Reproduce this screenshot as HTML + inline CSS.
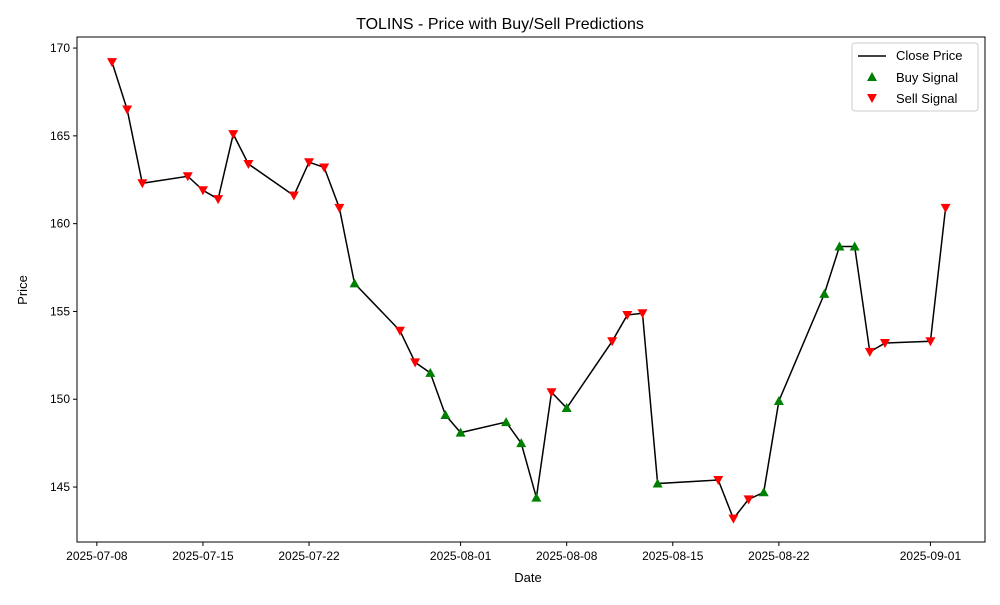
<!DOCTYPE html>
<html><head><meta charset="utf-8"><style>body{margin:0;background:#fff}svg{font-family:"Liberation Sans","DejaVu Sans",sans-serif}</style></head>
<body>
<svg id="c" width="1000" height="600"></svg>
<script>
const dates=["2025-07-09","2025-07-10","2025-07-11","2025-07-14","2025-07-15","2025-07-16","2025-07-17","2025-07-18","2025-07-21","2025-07-22","2025-07-23","2025-07-24","2025-07-25","2025-07-28","2025-07-29","2025-07-30","2025-07-31","2025-08-01","2025-08-04","2025-08-05","2025-08-06","2025-08-07","2025-08-08","2025-08-11","2025-08-12","2025-08-13","2025-08-14","2025-08-18","2025-08-19","2025-08-20","2025-08-21","2025-08-22","2025-08-25","2025-08-26","2025-08-27","2025-08-28","2025-08-29","2025-09-01","2025-09-02"];
const prices=[169.2,166.5,162.3,162.7,161.9,161.4,165.1,163.4,161.6,163.5,163.2,160.9,156.6,153.9,152.1,151.5,149.1,148.1,148.7,147.5,144.4,150.4,149.5,153.3,154.8,154.9,145.2,145.4,143.2,144.3,144.7,149.9,156.0,158.7,158.7,152.7,153.2,153.3,160.9];
const signals=["S","S","S","S","S","S","S","S","S","S","S","S","B","S","S","B","B","B","B","B","B","S","B","S","S","S","B","S","S","S","B","B","B","B","B","S","S","S","S"];
const xTicks=["2025-07-08","2025-07-15","2025-07-22","2025-08-01","2025-08-08","2025-08-15","2025-08-22","2025-09-01"];
const yTicks=[145,150,155,160,165,170];
const L=77,R=985,T=37,B=542;
const day=s=>Date.parse(s)/864e5;
const d0=day("2025-07-08")-1.31,d1=day("2025-09-01")+3.6;
const xs=s=>L+(day(s)-d0)/(d1-d0)*(R-L);
const v0=141.87,v1=170.63;
const ys=v=>B-(v-v0)/(v1-v0)*(B-T);
const svg=document.getElementById('c');const NS='http://www.w3.org/2000/svg';
function mk(t,a,p){const e=document.createElementNS(NS,t);for(const k in a)e.setAttribute(k,a[k]);(p||svg).appendChild(e);return e;}
let e=mk('text',{x:500,y:29,'text-anchor':'middle','font-size':16});e.textContent='TOLINS - Price with Buy/Sell Predictions';

xTicks.forEach(t=>{const x=xs(t);mk('line',{x1:x,x2:x,y1:B,y2:B+4,stroke:'#000'});const tx=mk('text',{x:x,y:B+18,'text-anchor':'middle','font-size':12});tx.textContent=t;
});
yTicks.forEach(t=>{const y=ys(t);mk('line',{x1:L-4,x2:L,y1:y,y2:y,stroke:'#000'});const tx=mk('text',{x:L-7,y:y+4,'text-anchor':'end','font-size':12});tx.textContent=t;
});
e=mk('text',{x:528,y:582,'text-anchor':'middle','font-size':13});e.textContent='Date';

e=mk('text',{x:27,y:290,'text-anchor':'middle','font-size':13,transform:'rotate(-90 27 290)'});e.textContent='Price';

e=mk('polyline',{points:dates.map((d,i)=>xs(d)+','+ys(prices[i])).join(' '),fill:'none',stroke:'#000','stroke-width':1.5});

const tri=(x,y,up,c)=>{const s=5;const p=up?`${x},${y-s} ${x-s},${y+s*0.8} ${x+s},${y+s*0.8}`:`${x},${y+s} ${x-s},${y-s*0.8} ${x+s},${y-s*0.8}`;return mk('polygon',{points:p,fill:c});};
dates.forEach((d,i)=>{const b=signals[i]==='B';const m=tri(xs(d),ys(prices[i]),b,b?'green':'red');
});
e=mk('rect',{x:L,y:T,width:R-L,height:B-T,fill:'none',stroke:'#000'});

const g=mk('g',{});
mk('rect',{x:852,y:43,width:126,height:68,fill:'#fff',stroke:'#ccc',rx:3},g);
mk('line',{x1:858,x2:886,y1:56,y2:56,stroke:'#000','stroke-width':1.5},g);
tri(872,77,true,'green').remove();g.appendChild(tri(872,77,true,'green'));
g.appendChild(tri(872,98,false,'red'));
[['Close Price',60],['Buy Signal',82],['Sell Signal',103]].forEach(([t,y])=>{const tx=mk('text',{x:896,y:y,'font-size':13},g);tx.textContent=t;
});
</script>
</body></html>
